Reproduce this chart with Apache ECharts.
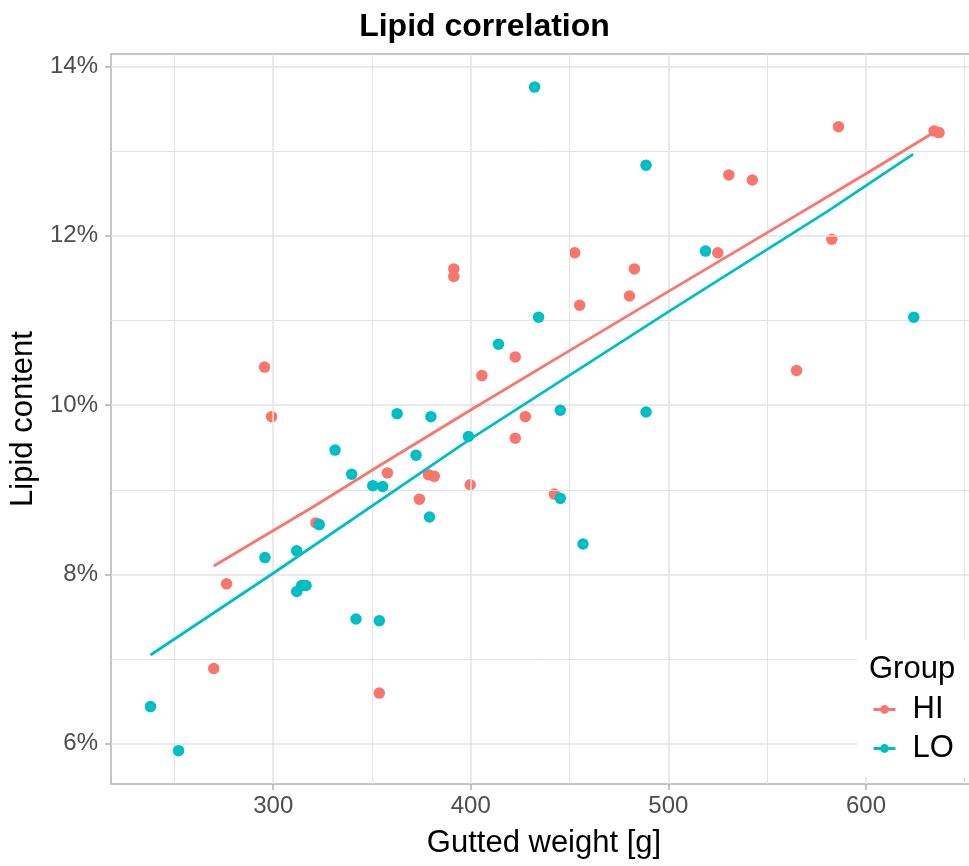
<!DOCTYPE html>
<html>
<head>
<meta charset="utf-8">
<script src="https://cdn.jsdelivr.net/npm/echarts@6/dist/echarts.min.js"></script>
<style>
  html, body { margin: 0; padding: 0; background: #ffffff; }
  #chart { width: 969px; height: 866px; }
</style>
</head>
<body>
<div id="chart"></div>
<script>
// Gutted weight [g] and lipid content [%] per fish, HI group
const hiWeight = [269.9, 276.4, 295.6, 299.2, 321.6, 353.7, 357.8, 374.0, 378.6, 381.5,
                  391.4, 391.4, 399.7, 405.6, 422.5, 422.5, 427.6, 442.3, 452.6, 455.1,
                  480.3, 482.8, 525.0, 530.6, 542.5, 564.9, 582.7, 586.1, 634.5, 637.0];
const hiLipid  = [6.89, 7.89, 10.45, 9.865, 8.61, 6.60, 9.20, 8.89, 9.18, 9.16,
                  11.61, 11.52, 9.06, 10.35, 10.57, 9.61, 9.865, 8.95, 11.80, 11.18,
                  11.29, 11.61, 11.80, 12.72, 12.66, 10.41, 11.96, 13.29, 13.24, 13.22];

// LO group
const loWeight = [237.9, 252.1, 295.8, 311.9, 311.9, 314.4, 316.6, 323.3, 331.3, 339.7,
                  341.9, 350.4, 353.7, 355.4, 362.7, 372.3, 379.1, 379.8, 398.8, 414.0,
                  432.3, 434.3, 445.3, 445.3, 456.8, 488.7, 488.7, 518.8, 624.2];
const loLipid  = [6.44, 5.92, 8.20, 8.28, 7.80, 7.87, 7.87, 8.59, 9.47, 9.185,
                  7.475, 9.05, 7.455, 9.04, 9.90, 9.41, 8.68, 9.865, 9.63, 10.72,
                  13.757, 11.04, 9.94, 8.90, 8.36, 12.835, 9.92, 11.82, 11.04];

// Fitted trend per group
const hiFitWeight = [269.9, 320.3, 354.1, 399.7, 450.4, 499.0, 550.9, 600.4, 637.0];
const hiFitLipid  = [8.10, 8.80, 9.29, 9.94, 10.65, 11.33, 12.05, 12.74, 13.26];
const loFitWeight = [237.9, 300.0, 399.7, 501.1, 580.5, 623.9];
const loFitLipid  = [7.05, 8.015, 9.60, 11.12, 12.29, 12.965];

// Axis ticks and grid lines
const xTicks = [300, 400, 500, 600];
const xMinor = [250, 350, 450, 550, 650];
const yTicks = [6, 8, 10, 12, 14];
const yMinor = [7, 9, 11, 13];

const groups = ['HI', 'LO'];
const colors = { HI: '#F8766D', LO: '#00BFC4' };

const zip = (xs, ys) => xs.map((x, i) => [x, ys[i]]);

const FONT = '"Liberation Sans", Arial, Helvetica, sans-serif';
const GRID_COLOR = '#E3E3E3';

const gridLine = (key, v, width) => ({
  [key]: v,
  lineStyle: { type: 'solid', width: width, color: GRID_COLOR }
});

const gridLines = [].concat(
  xMinor.map(v => gridLine('xAxis', v, 1)),
  yMinor.map(v => gridLine('yAxis', v, 1)),
  xTicks.map(v => gridLine('xAxis', v, 1.5)),
  yTicks.map(v => gridLine('yAxis', v, 1.5))
);

const chart = echarts.init(document.getElementById('chart'), null, { renderer: 'canvas' });

chart.setOption({
  animation: false,
  backgroundColor: '#ffffff',
  textStyle: { fontFamily: FONT },
  title: [
    {
      text: 'Lipid correlation',
      left: 'center',
      top: 6,
      textStyle: { fontFamily: FONT, fontSize: 32, fontWeight: 'bold', color: '#000000' },
      z: 60
    },
    {
      text: 'Group',
      left: 869,
      top: 654,
      padding: 0,
      textStyle: { fontFamily: FONT, fontSize: 31, fontWeight: 'normal', color: '#000000' },
      z: 60
    }
  ],
  graphic: [
    {
      type: 'rect',
      shape: { x: 857, y: 640, width: 130, height: 137 },
      style: { fill: '#ffffff' },
      z: 50,
      silent: true
    }
  ],
  legend: {
    data: groups,
    orient: 'vertical',
    left: 872,
    top: 694,
    padding: 0,
    itemWidth: 22,
    itemHeight: 11,
    itemGap: 8,
    selectedMode: false,
    lineStyle: { width: 3 },
    textStyle: { fontFamily: FONT, fontSize: 31, lineHeight: 31, color: '#000000', padding: [0, 0, 0, 12] },
    z: 60
  },
  grid: {
    left: 111,
    top: 54,
    width: 866,
    height: 730,
    show: true,
    borderColor: '#B3B3B3',
    borderWidth: 1.5,
    backgroundColor: 'transparent',
    containLabel: false,
    outerBoundsMode: 'none'
  },
  xAxis: {
    type: 'value',
    min: 217.9,
    max: 656.2,
    name: 'Gutted weight [g]',
    nameLocation: 'middle',
    nameGap: 44,
    nameTextStyle: { fontFamily: FONT, fontSize: 31, color: '#000000' },
    axisLine: { show: false },
    axisTick: { show: true, customValues: xTicks, length: 6, lineStyle: { color: '#B3B3B3', width: 1.5 } },
    axisLabel: { customValues: xTicks, fontFamily: FONT, fontSize: 24, color: '#4D4D4D', margin: 10 },
    splitLine: { show: false },
    minorSplitLine: { show: false }
  },
  yAxis: {
    type: 'value',
    min: 5.526,
    max: 14.148,
    name: 'Lipid content',
    nameLocation: 'middle',
    nameGap: 67,
    nameRotate: 90,
    nameTextStyle: { fontFamily: FONT, fontSize: 31, color: '#000000' },
    axisLine: { show: false },
    axisTick: { show: true, customValues: yTicks, length: 6, lineStyle: { color: '#B3B3B3', width: 1.5 } },
    axisLabel: { customValues: yTicks, fontFamily: FONT, fontSize: 24, color: '#4D4D4D', margin: 13,
                 formatter: v => v + '%' },
    splitLine: { show: false },
    minorSplitLine: { show: false }
  },
  series: [
    {
      type: 'line',
      name: 'panel-grid',
      data: [],
      silent: true,
      z: 1,
      markLine: {
        silent: true,
        animation: false,
        symbol: ['none', 'none'],
        label: { show: false },
        emphasis: { disabled: true },
        data: gridLines
      }
    },
    {
      type: 'line',
      name: 'HI',
      data: zip(hiFitWeight, hiFitLipid),
      showSymbol: false,
      symbol: 'circle',
      symbolSize: 8,
      lineStyle: { color: colors.HI, width: 2.8 },
      itemStyle: { color: colors.HI },
      z: 6,
      silent: true
    },
    {
      type: 'line',
      name: 'LO',
      data: zip(loFitWeight, loFitLipid),
      showSymbol: false,
      symbol: 'circle',
      symbolSize: 8,
      lineStyle: { color: colors.LO, width: 2.8 },
      itemStyle: { color: colors.LO },
      z: 6,
      silent: true
    },
    {
      type: 'scatter',
      name: 'HI',
      data: zip(hiWeight, hiLipid),
      symbol: 'circle',
      symbolSize: 11.5,
      itemStyle: { color: colors.HI, opacity: 1 },
      z: 4
    },
    {
      type: 'scatter',
      name: 'LO',
      data: zip(loWeight, loLipid),
      symbol: 'circle',
      symbolSize: 11.5,
      itemStyle: { color: colors.LO, opacity: 1 },
      z: 5
    }
  ]
});
</script>
</body>
</html>
